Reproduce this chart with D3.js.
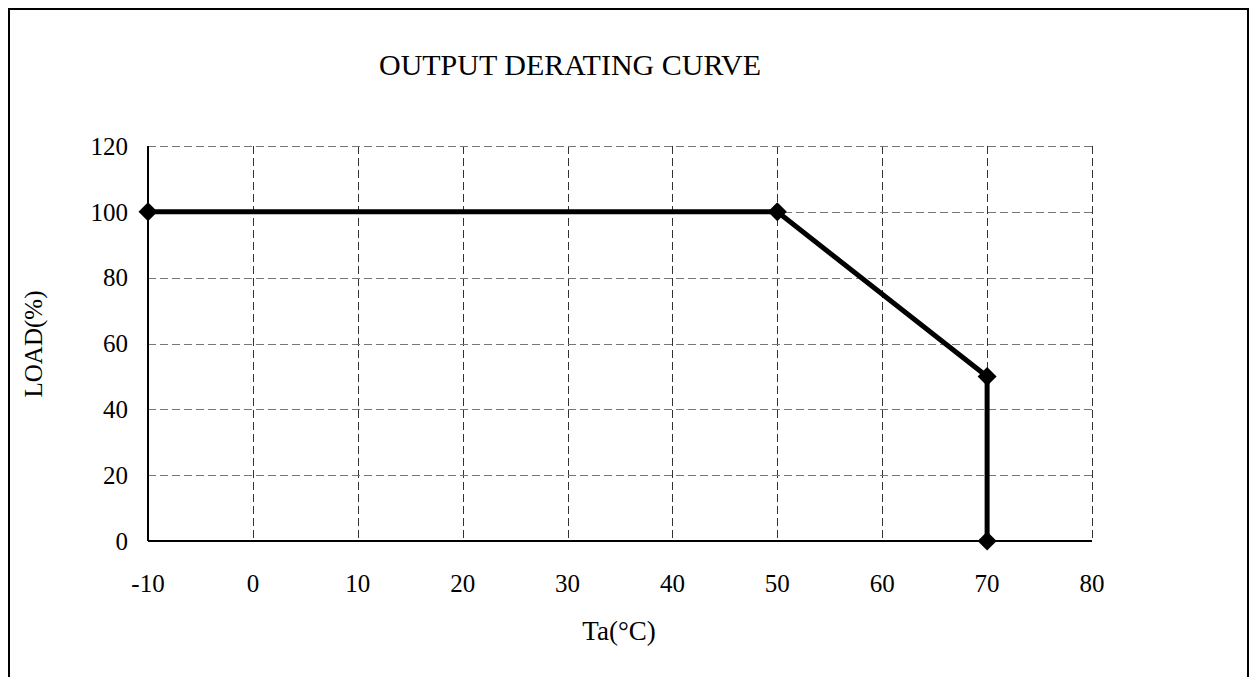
<!DOCTYPE html>
<html><head><meta charset="utf-8">
<script src="https://cdn.jsdelivr.net/npm/d3@7/dist/d3.min.js"></script>
<style>html,body{margin:0;padding:0;background:#fff;}svg{display:block;}</style>
</head><body>
<script>
const title = "OUTPUT DERATING CURVE";
const xLabel = "Ta(°C)";
const yLabel = "LOAD(%)";
const temps = [-10, 50, 70, 70];
const loads = [100, 100, 50, 0];
const xTicks = [-10, 0, 10, 20, 30, 40, 50, 60, 70, 80];
const yTicks = [0, 20, 40, 60, 80, 100, 120];

const W = 1252, H = 677;
const font = "'Liberation Serif','Times New Roman',serif";
const svg = d3.select("body").append("svg").attr("width", W).attr("height", H);
svg.append("rect").attr("width", W).attr("height", H).attr("fill", "#fff");

// outer frame (open at bottom)
svg.append("path").attr("d", `M9,${H+5}V9H1248V${H+5}`).attr("fill","none").attr("stroke","#000").attr("stroke-width",2);

const L = 148, R = 1092, T = 146, B = 541;
const x = d3.scaleLinear().domain([-10, 80]).range([L, R]);
const y = d3.scaleLinear().domain([0, 120]).range([B, T]);

// grid
svg.append("g").selectAll("line").data(xTicks.slice(1)).join("line")
  .attr("x1", d => Math.round(x(d)) + 0.5).attr("x2", d => Math.round(x(d)) + 0.5)
  .attr("y1", T).attr("y2", B)
  .attr("stroke", "#333").attr("stroke-width", 1).attr("stroke-dasharray", "8,4");
svg.append("g").selectAll("line").data(yTicks.slice(1)).join("line")
  .attr("x1", L).attr("x2", R)
  .attr("y1", d => Math.round(y(d)) + 0.5).attr("y2", d => Math.round(y(d)) + 0.5)
  .attr("stroke", "#777").attr("stroke-width", 1).attr("stroke-dasharray", "8,4");

// axes lines
svg.append("line").attr("x1", L).attr("x2", L).attr("y1", T).attr("y2", B).attr("stroke","#000").attr("stroke-width",2);
svg.append("line").attr("x1", L).attr("x2", R).attr("y1", B).attr("y2", B).attr("stroke","#000").attr("stroke-width",2);

// tick labels
svg.append("g").selectAll("text").data(yTicks).join("text")
  .attr("x", 128).attr("y", d => y(d)).attr("dy", "0.35em")
  .attr("text-anchor", "end").attr("font-family", font).attr("font-size", 25)
  .text(d => d);
svg.append("g").selectAll("text").data(xTicks).join("text")
  .attr("x", d => x(d)).attr("y", 583).attr("dy", "0.35em")
  .attr("text-anchor", "middle").attr("font-family", font).attr("font-size", 25)
  .text(d => d);

// titles
svg.append("text").attr("x", 570).attr("y", 64).attr("dy","0.35em").attr("text-anchor","middle")
  .attr("font-family", font).attr("font-size", 30).text(title);
svg.append("text").attr("x", 619).attr("y", 631).attr("dy","0.35em").attr("text-anchor","middle")
  .attr("font-family", font).attr("font-size", 27).text(xLabel);
svg.append("text").attr("transform", "translate(33,344) rotate(-90)").attr("dy","0.35em").attr("text-anchor","middle")
  .attr("font-family", font).attr("font-size", 25).text(yLabel);

// series
const pts = temps.map((t, i) => [t, loads[i]]);
svg.append("path").datum(pts)
  .attr("d", d3.line().x(d => x(d[0])).y(d => y(d[1])))
  .attr("fill", "none").attr("stroke", "#000").attr("stroke-width", 5).attr("stroke-linejoin","miter");
svg.append("g").selectAll("path").data(pts).join("path")
  .attr("transform", d => `translate(${x(d[0])},${y(d[1])}) rotate(45)`)
  .attr("d", d3.symbol().type(d3.symbolSquare).size(180))
  .attr("fill", "#000");
</script>
</body></html>
